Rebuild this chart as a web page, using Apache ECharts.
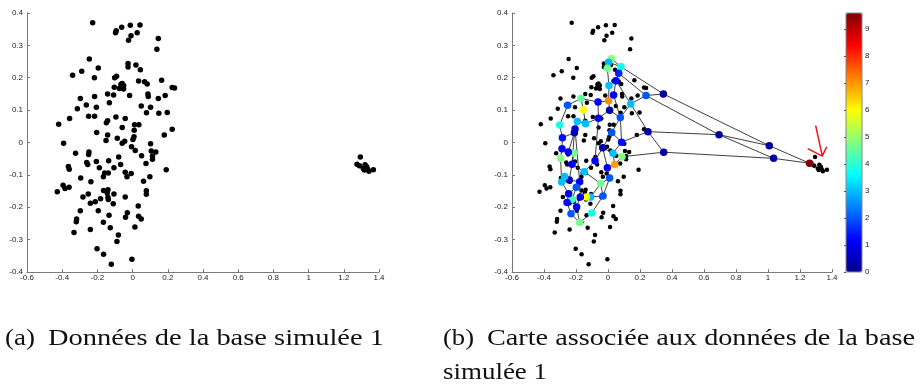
<!DOCTYPE html>
<html><head><meta charset="utf-8">
<script src="https://cdn.jsdelivr.net/npm/echarts@6/dist/echarts.min.js"></script>
<style>html,body{margin:0;padding:0;background:#fff}#c{width:920px;height:387px}</style>
</head><body><div id="c"></div>
<script>
// ---- Data: simulated base 1 (same points in both panels) ----
var pointsX = [-0.227,-0.093,-0.097,-0.062,-0.013,0.042,-0.009,0.026,-0.023,0.146,0.138,-0.246,-0.341,-0.289,-0.195,-0.217,-0.026,-0.026,0.019,0.044,-0.091,-0.102,-0.059,-0.066,-0.051,-0.068,-0.075,-0.051,-0.104,0.034,0.068,0.083,0.165,0.225,0.238,0.087,0.089,0.146,0.185,-0.017,-0.108,-0.142,-0.216,-0.297,-0.263,-0.206,-0.314,-0.132,0.049,0.102,0.079,0.149,0.197,-0.358,-0.250,-0.216,-0.095,-0.042,-0.420,-0.142,-0.149,0.011,0.036,-0.059,0.009,0.225,-0.204,-0.142,-0.087,0.008,0.002,-0.151,-0.045,-0.059,0.180,-0.392,0.102,-0.006,0.015,0.106,0.132,-0.324,-0.248,-0.250,0.051,0.113,0.113,-0.079,-0.136,-0.206,-0.261,-0.255,-0.068,0.076,-0.189,-0.106,-0.365,-0.360,-0.159,-0.138,-0.166,-0.042,-0.008,-0.032,0.062,0.098,0.191,-0.295,-0.237,-0.395,-0.384,-0.361,-0.428,-0.165,-0.140,-0.144,0.078,0.078,-0.252,-0.106,-0.140,-0.138,-0.282,-0.182,-0.042,-0.240,-0.212,-0.110,0.032,-0.297,-0.195,-0.030,-0.134,-0.040,-0.318,-0.320,0.034,0.049,-0.166,-0.127,0.013,-0.240,-0.333,-0.081,-0.089,-0.202,-0.165,-0.121,-0.004,
  1.294,1.275,1.289,1.321,1.330,1.317,1.336,1.343,1.368,1.311];
var pointsY = [0.370,0.345,0.339,0.356,0.362,0.363,0.330,0.339,0.316,0.321,0.288,0.258,0.208,0.220,0.230,0.200,0.244,0.233,0.239,0.225,0.205,0.200,0.182,0.180,0.176,0.170,0.167,0.165,0.171,0.190,0.188,0.181,0.192,0.170,0.168,0.150,0.142,0.136,0.145,0.145,0.147,0.150,0.142,0.136,0.116,0.109,0.104,0.123,0.113,0.109,0.092,0.090,0.093,0.074,0.081,0.081,0.079,0.074,0.056,0.067,0.061,0.055,0.055,0.046,0.038,0.041,0.031,0.023,0.013,0.018,0.009,0.006,0.004,-0.002,0.023,-0.002,-0.004,-0.013,-0.025,-0.026,-0.029,-0.033,-0.029,-0.037,-0.041,-0.042,-0.052,-0.045,-0.056,-0.059,-0.062,-0.068,-0.068,-0.065,-0.078,-0.078,-0.074,-0.083,-0.094,-0.094,-0.106,-0.092,-0.096,-0.106,-0.120,-0.106,-0.084,-0.110,-0.121,-0.132,-0.142,-0.138,-0.152,-0.148,-0.146,-0.156,-0.149,-0.160,-0.159,-0.159,-0.169,-0.176,-0.168,-0.174,-0.168,-0.188,-0.183,-0.189,-0.196,-0.211,-0.211,-0.217,-0.225,-0.231,-0.236,-0.245,-0.228,-0.236,-0.246,-0.263,-0.261,-0.269,-0.278,-0.286,-0.306,-0.328,-0.345,-0.376,-0.361,
  -0.045,-0.067,-0.072,-0.069,-0.075,-0.085,-0.083,-0.089,-0.084,-0.080];

// ---- Map (graph) nodes: position and colour value ----
var nodeX = [0.021,0.004,-0.004,0.081,0.067,0.050,0.006,0.035,0.004,0.010,0.077,0.023,-0.033,0.085,0.031,0.0875,0.042,-0.004,0.010,-0.046,-0.031,-0.102,-0.108,-0.135,-0.173,-0.177,-0.198,-0.223,-0.246,-0.196,-0.256,-0.231,-0.177,-0.242,-0.271,-0.290,-0.148,-0.081,-0.225,-0.296,-0.2125,-0.2875,-0.248,-0.285,-0.206,-0.210,-0.302,-0.192,-0.140,-0.060,-0.154,-0.169,-0.252,-0.0625,0.142,0.2375,0.346,0.250,0.348,0.694,1.008,1.035,1.260];
var nodeY = [0.259,0.248,0.229,0.234,0.214,0.191,0.176,0.147,0.129,0.100,0.077,0.031,-0.016,0.001,-0.033,-0.044,-0.068,-0.078,-0.110,-0.127,-0.165,-0.218,-0.168,-0.168,-0.168,-0.121,-0.138,-0.175,-0.158,-0.199,-0.185,-0.220,-0.247,-0.116,-0.105,-0.122,-0.090,-0.056,-0.067,-0.049,-0.033,-0.019,-0.029,0.015,0.042,0.030,0.054,0.065,0.058,0.075,0.101,0.136,0.115,0.125,0.119,0.145,0.150,0.0335,-0.030,0.024,-0.0098,-0.049,-0.064];
var nodeVal = [4.9,2.9,4.7,3.7,1.5,1.1,3.0,1.1,7.1,0.3,2.0,2.0,0.3,1.3,3.0,4.8,6.9,1.1,2.0,4.7,2.0,3.8,3.0,6.0,1.0,1.0,2.0,4.2,1.1,1.1,1.3,2.0,4.7,0.3,3.0,3.0,3.0,1.1,1.1,4.8,4.7,1.1,1.1,1.3,1.0,0.4,3.8,3.0,3.0,1.1,6.0,4.5,2.0,1.1,3.0,2.0,0.2,0.2,0.2,0.2,0.2,0.2,9.6];
var edges = [[0,1],[1,2],[0,3],[1,3],[3,4],[2,6],[4,5],[5,6],[5,7],[6,8],[7,8],[8,9],[8,53],[7,10],[9,10],[9,49],[10,13],[10,11],[11,12],[11,13],[12,14],[13,14],[14,15],[14,16],[15,16],[16,17],[12,17],[17,18],[18,19],[18,20],[19,20],[19,22],[20,21],[20,22],[22,23],[21,32],[22,24],[23,24],[24,29],[24,25],[25,26],[26,28],[26,27],[27,29],[28,30],[29,31],[30,31],[31,32],[29,32],[25,33],[33,34],[33,35],[34,35],[28,35],[36,37],[36,19],[37,12],[36,38],[38,40],[38,33],[40,42],[39,41],[41,42],[39,35],[41,43],[42,45],[43,46],[44,45],[44,47],[43,45],[46,52],[47,48],[48,49],[48,50],[50,51],[51,52],[51,53],[53,49],[49,37],[44,25],[45,38],
  [3,56],[4,55],[5,54],[54,55],[55,56],[54,10],[54,57],[13,57],[57,58],[57,59],[15,58],[58,61],[56,60],[55,59],[59,60],[59,61],[60,62],[61,62]];

// ---- Red hand-drawn arrow (data coordinates of panel b) ----
var arrowShaftX = [1.298,1.317,1.339];
var arrowShaftY = [0.052,0.0086,-0.0407];
var arrowHeadX = [1.248,1.339,1.367];
var arrowHeadY = [-0.019,-0.042,-0.013];

// ---- Tick settings ----
var xTicks = {min:-0.6, max:1.4, interval:0.2};
var yTicks = {min:-0.4, max:0.4, interval:0.1};
var cbTicks = {min:0, max:9.6, interval:1};

var captionA = ['(a)', 'Données de la base simulée 1'];
var captionB = ['(b)', 'Carte associée aux données de la base', 'simulée 1'];

// ---- build ----
var pts = pointsX.map(function(x,i){return [x, pointsY[i]];});
var nodes = nodeX.map(function(x,i){return [x, nodeY[i], nodeVal[i]];});
var edgeData = edges.map(function(e){return {coords:[[nodeX[e[0]],nodeY[e[0]]],[nodeX[e[1]],nodeY[e[1]]]]};});
function zipc(a,b){return a.map(function(x,i){return [x,b[i]];});}
var arrowData = [{coords: zipc(arrowShaftX, arrowShaftY)}, {coords: zipc(arrowHeadX, arrowHeadY)}];

var jet = ['#00008F','#0000FF','#0080FF','#00FFFF','#80FF80','#FFFF00','#FF8000','#FF0000','#800000'];
var tickFont = {fontSize:8, color:'#222', fontFamily:'Liberation Sans'};
function xAx(gi){return {gridIndex:gi,type:'value',min:xTicks.min,max:xTicks.max,interval:xTicks.interval,
  axisLine:{show:true,onZero:false,lineStyle:{color:'#7a7a7a',width:1}},axisTick:{show:true,inside:true,length:3,lineStyle:{color:'#7a7a7a'}},
  axisLabel:Object.assign({margin:2,showMinLabel:true,showMaxLabel:true},tickFont),splitLine:{show:false}};}
function yAx(gi){return {gridIndex:gi,type:'value',min:yTicks.min,max:yTicks.max,interval:yTicks.interval,
  axisLine:{show:true,onZero:false,lineStyle:{color:'#7a7a7a',width:1}},axisTick:{show:true,inside:true,length:3,lineStyle:{color:'#7a7a7a'}},
  axisLabel:Object.assign({margin:4,showMinLabel:true,showMaxLabel:true},tickFont),splitLine:{show:false}};}

// caption fitting
var cv = document.createElement('canvas').getContext('2d');
var capFont = '24px "Liberation Serif"';
cv.font = capFont;
function fit(str, w){return w / cv.measureText(str).width;}
function cap(str, x, y, w){return {type:'text', x:x, y:y, scaleX:fit(str,w), scaleY:1,
  style:{text:str, x:0, y:0, font:capFont, fill:'#111', align:'left', verticalAlign:'middle', textAlign:'left', textVerticalAlign:'middle'}};}

var chart = echarts.init(document.getElementById('c'), null, {renderer:'canvas'});
chart.setOption({
  animation:false,
  backgroundColor:'#fff',
  grid:[
    {left:27, top:13, width:352, height:259, outerBoundsMode:'none'},
    {left:512, top:13, width:320, height:259, outerBoundsMode:'none'},
    {left:846, top:13, width:16, height:259, show:true, borderColor:'#888', borderWidth:1, backgroundColor:'transparent', z:10, outerBoundsMode:'none'}
  ],
  xAxis:[xAx(0), xAx(1), {gridIndex:2, type:'value', show:false, min:0, max:1}],
  yAxis:[yAx(0), yAx(1), {gridIndex:2, type:'value', position:'right', min:cbTicks.min, max:cbTicks.max, interval:cbTicks.interval,
    axisLine:{show:false}, axisTick:{show:true, inside:true, length:2, lineStyle:{color:'#555'}},
    axisLabel:Object.assign({margin:3, showMaxLabel:false, formatter:function(v){return Math.abs(v-Math.round(v))<1e-6?String(Math.round(v)):'';}}, tickFont),
    splitLine:{show:false}, z:11}],
  visualMap:{type:'continuous', min:cbTicks.min, max:cbTicks.max, dimension:2, seriesIndex:3, calculable:false, realtime:false,
    left:846, top:13, itemWidth:16, itemHeight:259, padding:0, text:null, showLabel:false,
    inRange:{color:jet, opacity:1}, orient:'vertical'},
  graphic:[
    cap(captionA[0], 5, 339, 30), cap(captionA[1], 48, 339, 336),
    cap(captionB[0], 443, 339, 31), cap(captionB[1], 487, 339, 428),
    cap(captionB[2], 443, 373, 104)
  ],
  series:[
    {type:'scatter', xAxisIndex:0, yAxisIndex:0, data:pts, symbolSize:5.5, itemStyle:{color:'#000', opacity:1}, z:2},
    {type:'scatter', xAxisIndex:1, yAxisIndex:1, data:pts, symbolSize:4.5, itemStyle:{color:'#000', opacity:1}, z:2},
    {type:'lines', coordinateSystem:'cartesian2d', xAxisIndex:1, yAxisIndex:1, data:edgeData, lineStyle:{color:'#2a2a2a', width:0.9, opacity:1, curveness:0}, z:3},
    {type:'scatter', xAxisIndex:1, yAxisIndex:1, data:nodes, symbolSize:7.5, itemStyle:{opacity:1}, z:4},
    {type:'lines', coordinateSystem:'cartesian2d', polyline:true, xAxisIndex:1, yAxisIndex:1, data:arrowData, lineStyle:{color:'#f01010', width:1.5, opacity:1}, z:5}
  ]
});
</script></body></html>
